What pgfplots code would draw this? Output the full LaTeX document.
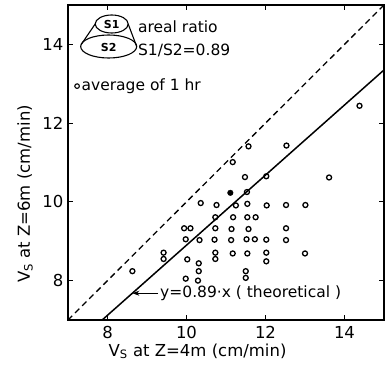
\documentclass[border=0pt]{standalone}
\usepackage{pgfplots}
\pgfplotsset{compat=1.18}
\usetikzlibrary{arrows.meta}
\usepackage{fontspec}
\setmainfont{DejaVu Sans}
\begin{document}
\begin{tikzpicture}
\begin{axis}[
  scale only axis, width=316pt, height=315pt,
  xmin=7, xmax=15, ymin=7, ymax=15,
  xtick={8,10,12,14}, ytick={8,10,12,14},
  tick align=inside, major tick length=5pt,
  axis line style={line width=1.4pt},
  every tick/.style={line width=1.1pt, black},
  /pgf/number format/assume math mode=true,
  tick label style={font=\fontsize{16.5}{18}\selectfont},
  xticklabel style={yshift=-3pt},
  yticklabel style={xshift=-1pt},
  xlabel={V\textsubscript{S} at Z=4m (cm/min)},
  ylabel={V\textsubscript{S} at Z=6m (cm/min)},
  label style={font=\fontsize{16.5}{19}\selectfont},
  xlabel style={at={(axis description cs:0.41,-0.10)}, anchor=center},
  ylabel style={at={(axis description cs:-0.136,0.40)}, anchor=center, rotate=0},
  clip=false,
]
\addplot[black, line width=1.3pt, dashed, dash pattern=on 6pt off 4pt] coordinates {(7,7) (15,15)};
\addplot[black, line width=1.5pt] coordinates {(7.865,7) (15,13.35)};
\addplot[only marks, mark=o, mark size=2.5pt, mark options={line width=1.3pt, black}] coordinates {
(11.57,11.41) (12.53,11.43) (11.17,11.01) (11.48,10.63) (12.02,10.65) (13.61,10.62) (14.38,12.44)
(11.53,10.25)
(10.36,9.97) (10.76,9.92) (11.25,9.91) (11.54,9.95) (12.03,9.91) (12.52,9.92) (13.01,9.92)
(10.73,9.61) (11.18,9.61) (11.54,9.61) (11.75,9.61)
(9.94,9.33) (10.10,9.33) (10.73,9.33) (11.14,9.31) (11.57,9.31) (12.52,9.33)
(9.98,9.05) (10.33,9.03) (10.71,9.04) (11.13,9.03) (11.52,9.05) (11.73,9.05) (12.02,9.04) (12.52,9.03)
(9.42,8.71) (10.73,8.71) (11.17,8.69) (11.54,8.69) (12.02,8.71) (13.00,8.69)
(9.42,8.55) (10.73,8.55) (10.02,8.54) (12.02,8.49) (10.31,8.44)
(8.63,8.24) (10.31,8.24) (11.50,8.24) (11.50,8.07) (9.98,8.05) (10.29,8.00)
};
\addplot[only marks, mark=*, mark size=2.8pt, mark options={black}] coordinates {(11.11,10.23)};
% annotation
\draw[-{Stealth[length=7pt,width=5pt]}, line width=1.1pt] (axis cs:9.28,7.68) -- (axis cs:8.63,7.68);
\node[anchor=west, font=\fontsize{15.5}{18}\selectfont, inner sep=0pt] at (axis cs:9.33,7.68) {y=0.89·x ( theoretical )};
% frustum legend
\begin{scope}[shift={(axis cs:8.03,13.946)}, line width=1.1pt]
  \draw (0pt,0pt) ellipse [x radius=28pt, y radius=11.5pt];
  \draw (3pt,22.5pt) ellipse [x radius=16.5pt, y radius=9pt];
  \draw (-13.5pt,22.5pt) -- (-27.5pt,2pt);
  \draw (19.5pt,22.5pt) -- (28pt,0pt);
  \node[font=\fontsize{11}{12}\selectfont\bfseries, inner sep=0pt] at (3pt,22.5pt) {S1};
  \node[font=\fontsize{11}{12}\selectfont\bfseries, inner sep=0pt] at (0pt,-1pt) {S2};
\end{scope}
\node[anchor=base west, inner sep=0pt, font=\fontsize{15.5}{18}\selectfont] at (axis cs:8.77,14.29) {areal ratio};
\node[anchor=base west, inner sep=0pt, font=\fontsize{15.5}{18}\selectfont] at (axis cs:8.77,13.73) {S1/S2=0.89};
\draw[line width=1.1pt] (axis cs:7.23,12.94) circle [radius=2.3pt];
\node[anchor=base west, inner sep=0pt, font=\fontsize{15.5}{18}\selectfont] at (axis cs:7.34,12.82) {average of 1 hr};
\end{axis}
\pgfresetboundingbox
\path[use as bounding box] ([xshift=-68pt,yshift=-47pt]current axis.south west) rectangle ([xshift=8pt,yshift=5pt]current axis.north east);
\end{tikzpicture}
\end{document}
